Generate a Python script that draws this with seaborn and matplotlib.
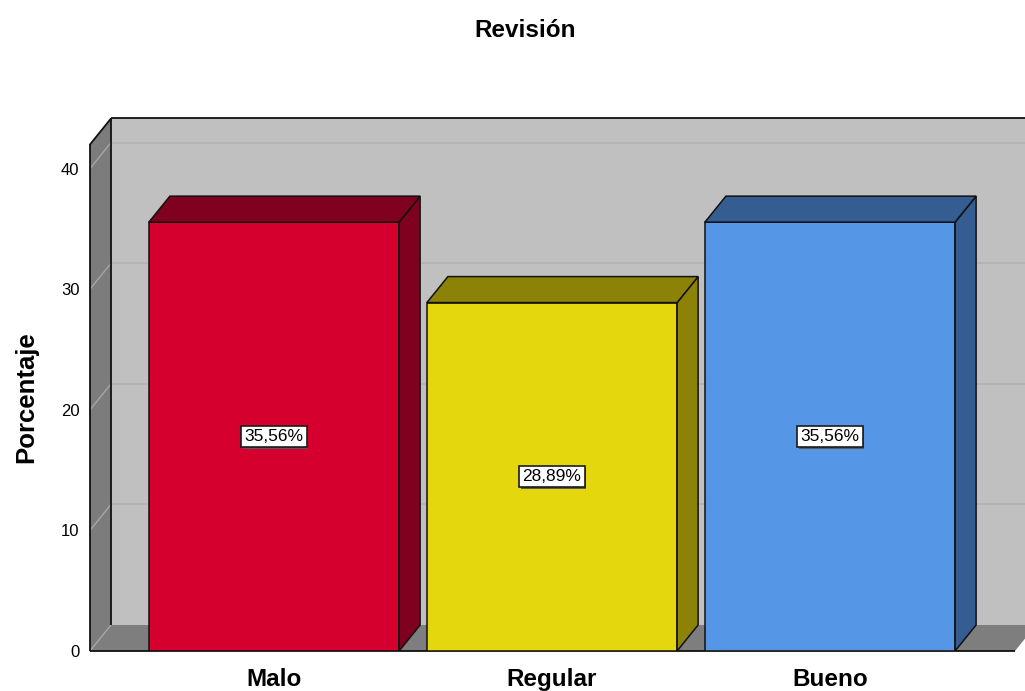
import matplotlib
matplotlib.use("Agg")
import matplotlib.pyplot as plt
import matplotlib.patheffects as pe
from matplotlib.patches import Polygon, Rectangle
import seaborn as sns

# Data
categories = ["Malo", "Regular", "Bueno"]
percentages = [35.56, 28.89, 35.56]
front_colors = ["#D6002E", "#E4D70E", "#5696E6"]
shade_colors = ["#800020", "#8C8208", "#355D91"]
y_ticks = [0, 10, 20, 30, 40]
title = "Revisión"
y_label = "Porcentaje"

sns.set_theme(style="white")
plt.rcParams['font.family'] = ['Liberation Sans', 'DejaVu Sans']

W, H = 1025, 691
fig = plt.figure(figsize=(W / 100, H / 100), dpi=100)

# Box geometry in pixels
x0_px, y0_px = 90, 651          # front-left corner of the floor (value 0)
px_per_unit = 12.06             # vertical scale
cat_px = 278                    # distance between category centres
first_center_px = 274
floor_right_px = 1015
wall_top = 42                   # height of the walls in value units
depth_x_px, depth_y_px = 21, 26

DX = depth_x_px / cat_px
DY = depth_y_px / px_per_unit
xmin = (x0_px - first_center_px) / cat_px
xmax = (W - first_center_px) / cat_px
xfar = (floor_right_px - first_center_px) / cat_px
ytop = wall_top + DY

ax = fig.add_axes([x0_px / W, (H - y0_px) / H, (W - x0_px) / W,
                   ytop * px_per_unit / H])
ax.set_facecolor("none")
for s in ax.spines.values():
    s.set_visible(False)

# Front faces of the bars
sns.barplot(x=categories, y=percentages, hue=categories, palette=front_colors,
            saturation=1, width=0.9, edgecolor="#111111", linewidth=1.1,
            legend=False, ax=ax, zorder=3)
bars = sorted([p for p in ax.patches if isinstance(p, Rectangle)], key=lambda p: p.get_x())
bars = [b for b in bars if b.get_height() > 0]

# Back wall
ax.add_patch(Polygon([(xmin + DX, DY), (xfar + DX, DY), (xfar + DX, wall_top + DY),
                      (xmin + DX, wall_top + DY)], closed=True,
                     facecolor="#C0C0C0", edgecolor="none", zorder=0, clip_on=False))
# Left wall
ax.add_patch(Polygon([(xmin, 0), (xmin, wall_top), (xmin + DX, wall_top + DY),
                      (xmin + DX, DY)], closed=True,
                     facecolor="#7C7C7C", edgecolor="none", zorder=0, clip_on=False))
# Floor
ax.add_patch(Polygon([(xmin, 0), (xfar, 0), (xfar + DX, DY), (xmin + DX, DY)], closed=True,
                     facecolor="#7E7E7E", edgecolor="none", zorder=0, clip_on=False))

# Grid lines on the walls
for v in y_ticks[1:]:
    ax.plot([xmin + DX, xfar + DX], [v + DY, v + DY], color="#B2B2B2", lw=1.2,
            zorder=1, clip_on=False)
for v in y_ticks:
    ax.plot([xmin, xmin + DX], [v, v + DY], color="#A6A6A6", lw=1.0,
            zorder=1, clip_on=False)

# Wall outlines
edge_kw = dict(color="#111111", lw=1.3, zorder=1.5, clip_on=False, solid_capstyle="butt")
ax.plot([xmin + DX, xfar + DX], [wall_top + DY, wall_top + DY], **edge_kw)
ax.plot([xmin, xmin + DX], [wall_top, wall_top + DY], **edge_kw)
ax.plot([xmin, xmin], [0, wall_top], **edge_kw)
ax.plot([xmin + DX, xmin + DX], [DY, wall_top + DY], **edge_kw)
ax.plot([xmin, xfar], [0, 0], **edge_kw)

# Side and top faces, value labels
for bar, shade, val in zip(bars, shade_colors, percentages):
    x, w, h = bar.get_x(), bar.get_width(), bar.get_height()
    side = Polygon([(x + w, 0), (x + w + DX, DY), (x + w + DX, h + DY), (x + w, h)],
                   closed=True, facecolor=shade, edgecolor="#111111", lw=1.1, zorder=3)
    top = Polygon([(x, h), (x + DX, h + DY), (x + w + DX, h + DY), (x + w, h)],
                  closed=True, facecolor=shade, edgecolor="#111111", lw=1.1, zorder=3)
    ax.add_patch(side)
    ax.add_patch(top)
    label = f"{val:.2f}".replace(".", ",") + "%"
    t = ax.text(x + w / 2, h / 2, label, ha="center", va="center", fontsize=12.5,
                color="black", zorder=5,
                bbox=dict(boxstyle="square,pad=0.18", facecolor="white",
                          edgecolor="#1A1A1A", lw=1.2))
    t.get_bbox_patch().set_path_effects(
        [pe.SimplePatchShadow(offset=(1.3, -1.3), shadow_rgbFace="#5A5A5A", alpha=1),
         pe.Normal()])

ax.set_xlim(xmin, xmax)
ax.set_ylim(0, ytop)
ax.set_yticks(y_ticks)
ax.set_yticklabels([str(v) for v in y_ticks], fontsize=12, color="black")
ax.set_xticks(range(len(categories)))
ax.set_xticklabels(categories, fontsize=17.5, fontweight="bold", color="black")
ax.tick_params(axis="y", length=0, pad=7.5)
ax.tick_params(axis="x", length=0, pad=12)
ax.set_xlabel("")
ax.set_ylabel("")
ax.grid(False)

fig.text(525 / W, 1 - 37 / H, title, ha="center", va="baseline",
         fontsize=17.5, fontweight="bold", color="black")
fig.text(33 / W, 1 - 397.5 / H, y_label, rotation=90, rotation_mode="anchor",
         ha="center", va="baseline", fontsize=18.5, fontweight="bold", color="black")

fig.savefig("out.png", dpi=100)
